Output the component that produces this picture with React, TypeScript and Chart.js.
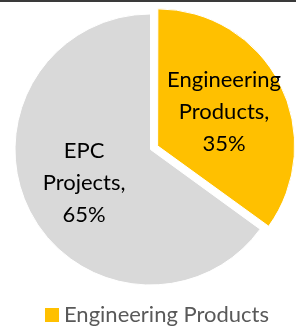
import React, { useEffect, useRef } from "react";
import { Chart, registerables } from "chart.js";
Chart.register(...registerables);

const categories = ["Engineering Products", "EPC Projects"];
const shares = [35, 65];
const colors = ["#FFC000", "#D9D9D9"];
const offsets = [32, 0];
const legendShown = ["Engineering Products"];

const FONT = "Lato, 'Liberation Sans', sans-serif";

const labelPlugin = {
  id: "sliceLabels",
  afterDatasetsDraw(chart: any) {
    const ctx = chart.ctx;
    const meta = chart.getDatasetMeta(0);
    const total = shares.reduce((a, b) => a + b, 0);
    ctx.save();
    ctx.font = `22px ${FONT}`;
    ctx.fillStyle = "#000000";
    ctx.textAlign = "center";
    ctx.textBaseline = "middle";
    meta.data.forEach((arc: any, i: number) => {
      const { x, y, startAngle, endAngle, outerRadius } = arc.getProps(
        ["x", "y", "startAngle", "endAngle", "outerRadius"],
        true
      );
      const mid = (startAngle + endAngle) / 2;
      const d = offsets[i] / 4 + outerRadius * 0.55;
      const cx = x + Math.cos(mid) * d;
      const cy = y + Math.sin(mid) * d;
      const lines = categories[i].split(" ");
      lines[lines.length - 1] += ",";
      lines.push(Math.round((shares[i] / total) * 100) + "%");
      const lh = 32;
      lines.forEach((t, k) => ctx.fillText(t, cx, cy + (k - (lines.length - 1) / 2) * lh));
    });
    ctx.restore();
  },
};

function makeSwatch(color: string) {
  const c = document.createElement("canvas");
  c.width = 33;
  c.height = 14;
  const g = c.getContext("2d")!;
  g.fillStyle = color;
  g.fillRect(19, 0, 14, 14);
  return c;
}

export default function App() {
  const ref = useRef<HTMLCanvasElement | null>(null);
  useEffect(() => {
    if (!ref.current) return;
    const chart = new Chart(ref.current, {
      type: "pie",
      data: {
        labels: categories,
        datasets: [
          {
            data: shares,
            backgroundColor: colors,
            borderColor: "#FFFFFF",
            borderWidth: 1,
            offset: offsets,
          },
        ],
      },
      options: {
        responsive: false,
        animation: false,
        layout: { padding: { top: 7.5, left: 0, right: 5, bottom: 0 } },
        plugins: {
          tooltip: { enabled: false },
          legend: {
            position: "bottom",
            labels: {
              usePointStyle: true,
              pointStyleWidth: 21,
              boxHeight: 14,
              padding: 2.5,
              color: "#595959",
              font: { size: 22, family: FONT },
              generateLabels: (ch: any) =>
                categories
                  .map((name, i) => ({ name, i }))
                  .filter((o) => legendShown.includes(o.name))
                  .map((o) => ({
                    text: o.name,
                    fillStyle: colors[o.i],
                    strokeStyle: colors[o.i],
                    lineWidth: 0,
                    hidden: false,
                    index: o.i,
                    pointStyle: makeSwatch(colors[o.i]),
                    fontColor: "#595959",
                  })),
            },
          },
        },
      },
      plugins: [labelPlugin],
    } as any);
    return () => chart.destroy();
  }, []);
  return (
    <div
      style={{
        position: "fixed",
        left: 0,
        top: 0,
        width: 296,
        height: 328,
        overflow: "hidden",
        background: "#ffffff",
      }}
    >
      <canvas
        ref={ref}
        width={320}
        height={346}
        style={{ display: "block", position: "absolute", left: -7, top: -10 }}
      />
      <div
        style={{
          position: "absolute",
          left: 0,
          top: 0,
          width: 296,
          height: 2,
          background: "#3a3a3a",
        }}
      />
    </div>
  );
}
